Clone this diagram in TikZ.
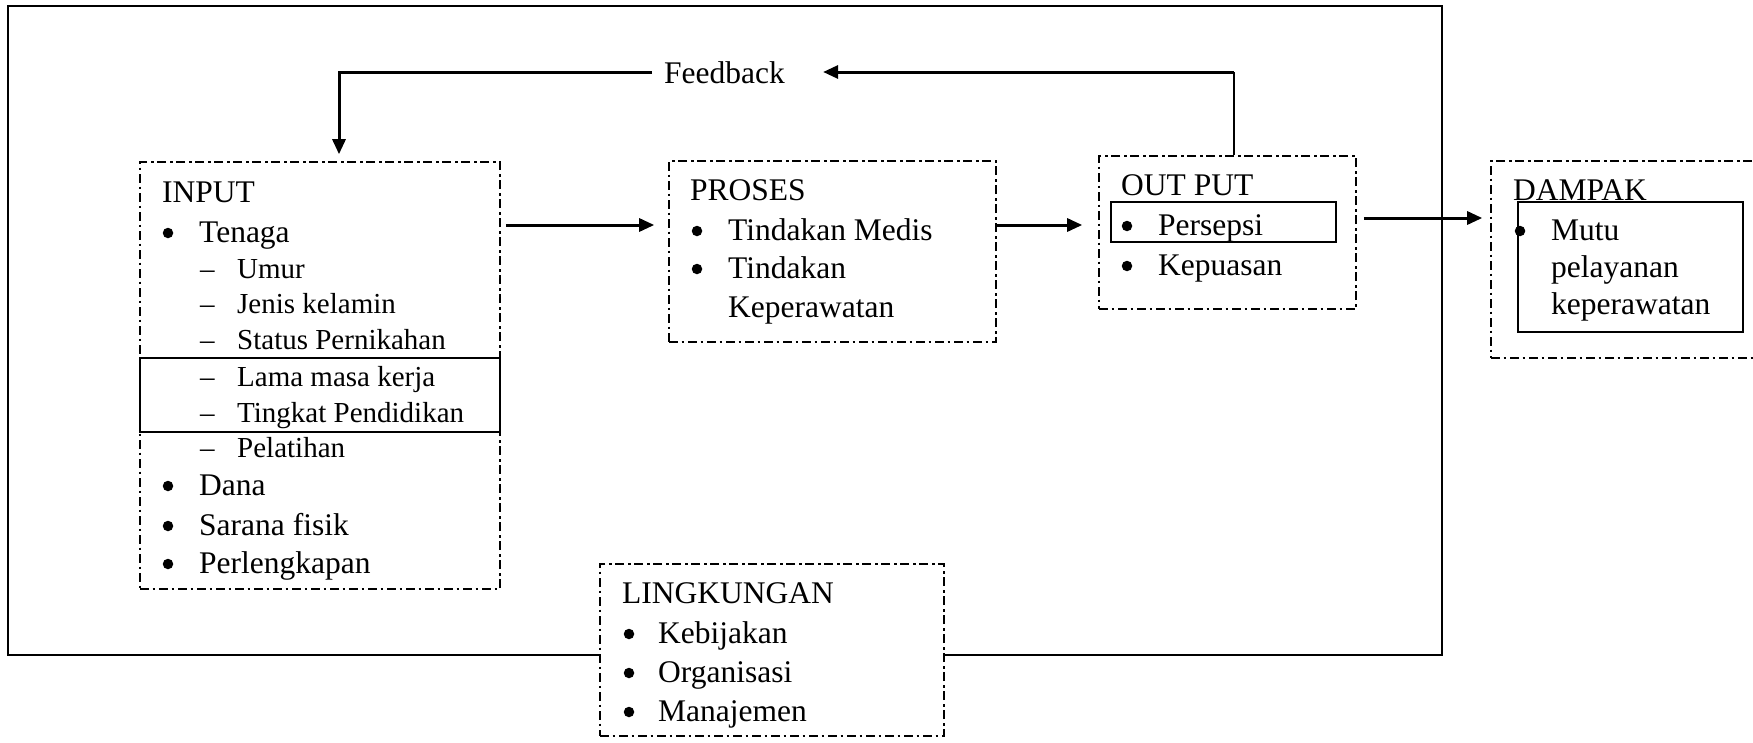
\documentclass[tikz,border=0pt]{standalone}
\usepackage{fontspec}
\setmainfont{Liberation Serif}
\usetikzlibrary{arrows.meta,fit}
\newcommand\mainsz{\fontsize{31.5}{38}\selectfont}
\newcommand\subsz{\fontsize{29}{35}\selectfont}
\tikzset{
  frame/.style={draw, line width=2.2pt, inner sep=0pt},
  dbox/.style={draw, line width=1.6pt, dash pattern=on 9pt off 3.5pt on 2.5pt off 4pt, inner sep=0pt},
  sbox/.style={draw, line width=2pt, inner sep=0pt},
  arr/.style={line width=3pt, -{Triangle[length=15pt,width=13pt]}},
  thinln/.style={line width=1.3pt},
  tx/.style={anchor=base west, inner sep=0pt, font=\mainsz},
  sx/.style={anchor=base west, inner sep=0pt, font=\subsz},
  bdot/.style={circle, fill=black, inner sep=0pt, minimum size=10.5pt, yshift=9pt},
}
\begin{document}
\begin{tikzpicture}[x=1pt,y=-1pt]
\useasboundingbox (0,0) rectangle (1753,742);
% outer frame
\node[frame, fit={(8,6)(1442,655)}] (outer) {};
% boxes
\node[dbox, fit={(140,162)(500,589)}] (inbox) {};
\node[dbox, fit={(669,161)(996,342)}] (proses) {};
\node[dbox, fit={(1099,156)(1356,309)}] (outbox) {};
\node[dbox, fit={(1491,161)(1770,358)}] (dampak) {};
\node[dbox, fill=white, fit={(600,564)(944,736)}] (lingk) {};
% solid highlight boxes
\node[sbox, fit={(140,358)(500,432)}] (lamabox) {};
\node[sbox, fit={(1111,202)(1336,242)}] (persbox) {};
\node[sbox, fit={(1518,202)(1743,332)}] (mutubox) {};
% INPUT texts
\node[tx] (tIn) at (162,202) {INPUT};
\node[bdot] (bi1) at (168,242) {};
\node[tx] (ti1) at (199,242) {Tenaga};
\node[sx] (di1) at (200,278) {–};
\node[sx] (si1) at (237,278) {Umur};
\node[sx] (di2) at (200,313) {–};
\node[sx] (si2) at (237,313) {Jenis kelamin};
\node[sx] (di3) at (200,349) {–};
\node[sx] (si3) at (237,349) {Status Pernikahan};
\node[sx] (di4) at (200,386) {–};
\node[sx] (si4) at (237,386) {Lama masa kerja};
\node[sx] (di5) at (200,422) {–};
\node[sx] (si5) at (237,422) {Tingkat Pendidikan};
\node[sx] (di6) at (200,457) {–};
\node[sx] (si6) at (237,457) {Pelatihan};
\node[bdot] (bi2) at (168,495) {};
\node[tx] (ti2) at (199,495) {Dana};
\node[bdot] (bi3) at (168,535) {};
\node[tx] (ti3) at (199,535) {Sarana fisik};
\node[bdot] (bi4) at (168,573) {};
\node[tx] (ti4) at (199,573) {Perlengkapan};
% PROSES texts
\node[tx] (tPr) at (690,200) {PROSES};
\node[bdot] (bp1) at (697,240) {};
\node[tx] (tp1) at (728,240) {Tindakan Medis};
\node[bdot] (bp2) at (697,278) {};
\node[tx] (tp2) at (728,278) {Tindakan};
\node[tx] (tp3) at (728,317) {Keperawatan};
% OUTPUT texts
\node[tx] (tOut) at (1121,195) {OUT PUT};
\node[bdot] (bo1) at (1127,235) {};
\node[tx] (to1) at (1158,235) {Persepsi};
\node[bdot] (bo2) at (1127,275) {};
\node[tx] (to2) at (1158,275) {Kepuasan};
% DAMPAK texts
\node[tx] (tDa) at (1513,200) {DAMPAK};
\node[bdot] (bd1) at (1520,240) {};
\node[tx] (td1) at (1551,240) {Mutu};
\node[tx] (td2) at (1551,277) {pelayanan};
\node[tx] (td3) at (1551,314) {keperawatan};
% LINGKUNGAN texts
\node[tx] (tLi) at (622,603) {LINGKUNGAN};
\node[bdot] (bl1) at (629,643) {};
\node[tx] (tl1) at (658,643) {Kebijakan};
\node[bdot] (bl2) at (629,682) {};
\node[tx] (tl2) at (658,682) {Organisasi};
\node[bdot] (bl3) at (629,721) {};
\node[tx] (tl3) at (658,721) {Manajemen};
% Feedback
\node[tx] (fb) at (664,83) {Feedback};
\coordinate (fbL) at (339,72);
\coordinate (fbR) at (1234,72);
\coordinate (yA) at (0,225);
\coordinate (yB) at (0,218);
% connectors
\draw[arr] ([xshift=5pt]inbox.east |- yA) -- ([xshift=-14pt]proses.west |- yA);
\draw[arr] (proses.east |- yA) -- ([xshift=-16pt]outbox.west |- yA);
\draw[arr] ([xshift=7pt]outbox.east |- yB) -- ([xshift=-8pt]dampak.west |- yB);
\draw[arr] ([xshift=-12pt]fb.west |- fbL) -- (fbL) -- ([yshift=7pt]fbL |- inbox.north);
\draw[thinln] (fbR |- outbox.north) -- (fbR);
\draw[arr] (fbR) -- ([xshift=38pt]fb.east |- fbR);
\end{tikzpicture}
\end{document}
